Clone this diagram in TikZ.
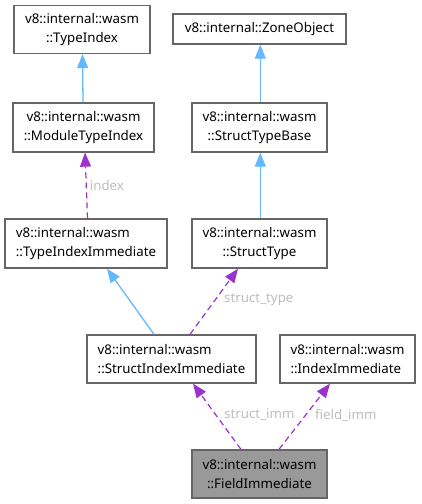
\documentclass[tikz,border=0pt]{standalone}
\usepackage{fontspec}
\setmainfont{Noto Sans}
\usetikzlibrary{arrows.meta}
\definecolor{edgeblue}{HTML}{63B8FF}
\definecolor{edgepurple}{HTML}{9A32CD}
\definecolor{boxline}{HTML}{666666}
\definecolor{lblgrey}{HTML}{BDBDBD}
\tikzset{
  cls/.style={draw=boxline,line width=1.3pt,fill=white,inner sep=0pt,align=center},
  inherit/.style={edgeblue,line width=1.3pt,-{Triangle[width=11pt,length=14pt]}},
  usage/.style={edgepurple,line width=1.2pt,dash pattern=on 6pt off 4pt,-{Triangle[width=11pt,length=14pt]}},
  lbl/.style={lblgrey,anchor=west,inner sep=0pt}
}
\begin{document}
\begin{tikzpicture}[x=1pt,y=-1pt,font=\fontsize{13.3}{19.5}\selectfont]
	\useasboundingbox (0,0) rectangle (421,504);
	\node[cls,minimum width=136pt,minimum height=48pt] (ti) at (82,29.5) {v8::internal::wasm\\::TypeIndex};
	\node[cls,minimum width=173pt,minimum height=30pt] (zo) at (259.5,29) {v8::internal::ZoneObject};
	\node[cls,minimum width=141pt,minimum height=49pt] (mti) at (83.5,127.5) {v8::internal::wasm\\::ModuleTypeIndex};
	\node[cls,minimum width=135pt,minimum height=49pt] (stb) at (259.5,127.5) {v8::internal::wasm\\::StructTypeBase};
	\node[cls,align=left,minimum width=162pt,minimum height=49pt] (tii) at (86,243.5) {v8::internal::wasm\\::TypeIndexImmediate};
	\node[cls,minimum width=135pt,minimum height=49pt] (st) at (259.5,243.5) {v8::internal::wasm\\::StructType};
	\node[cls,align=left,minimum width=169pt,minimum height=48pt] (sii) at (171.5,359) {v8::internal::wasm\\::StructIndexImmediate};
	\node[cls,align=left,minimum width=135pt,minimum height=48pt] (ii) at (347.5,359) {v8::internal::wasm\\::IndexImmediate};
	\node[cls,fill=black!40,minimum width=135pt,minimum height=48pt] (fi) at (259.5,474) {v8::internal::wasm\\::FieldImmediate};
	% inheritance
	\draw[inherit] ([xshift=-.5pt]mti.north)--([xshift=.5pt]ti.south);
	\draw[inherit] ([xshift=.8pt]stb.north)--([xshift=.8pt]zo.south);
	\draw[inherit] ([xshift=.8pt]st.north)--([xshift=.8pt]stb.south);
	\draw[inherit] ([xshift=-17.5pt]sii.north)--([xshift=21pt]tii.south);
	% members
	\draw[usage] ([xshift=1.5pt]tii.north)--([xshift=1.5pt]mti.south) node[lbl,pos=.5,xshift=3pt] (lidx) {index};
	\draw[usage] ([xshift=18.5pt]sii.north)--([xshift=-21.5pt]st.south);
	\node[lbl] (lst) at (224,300) {struct\_type};
	\draw[usage] ([xshift=-18.5pt]fi.north)--([xshift=21.5pt]sii.south);
	\node[lbl] (lsi) at (224,415) {struct\_imm};
	\draw[usage] ([xshift=19.5pt]fi.north)--([xshift=-17.5pt]ii.south);
	\node[lbl] (lfi) at (315,415) {field\_imm};
\end{tikzpicture}
\end{document}
